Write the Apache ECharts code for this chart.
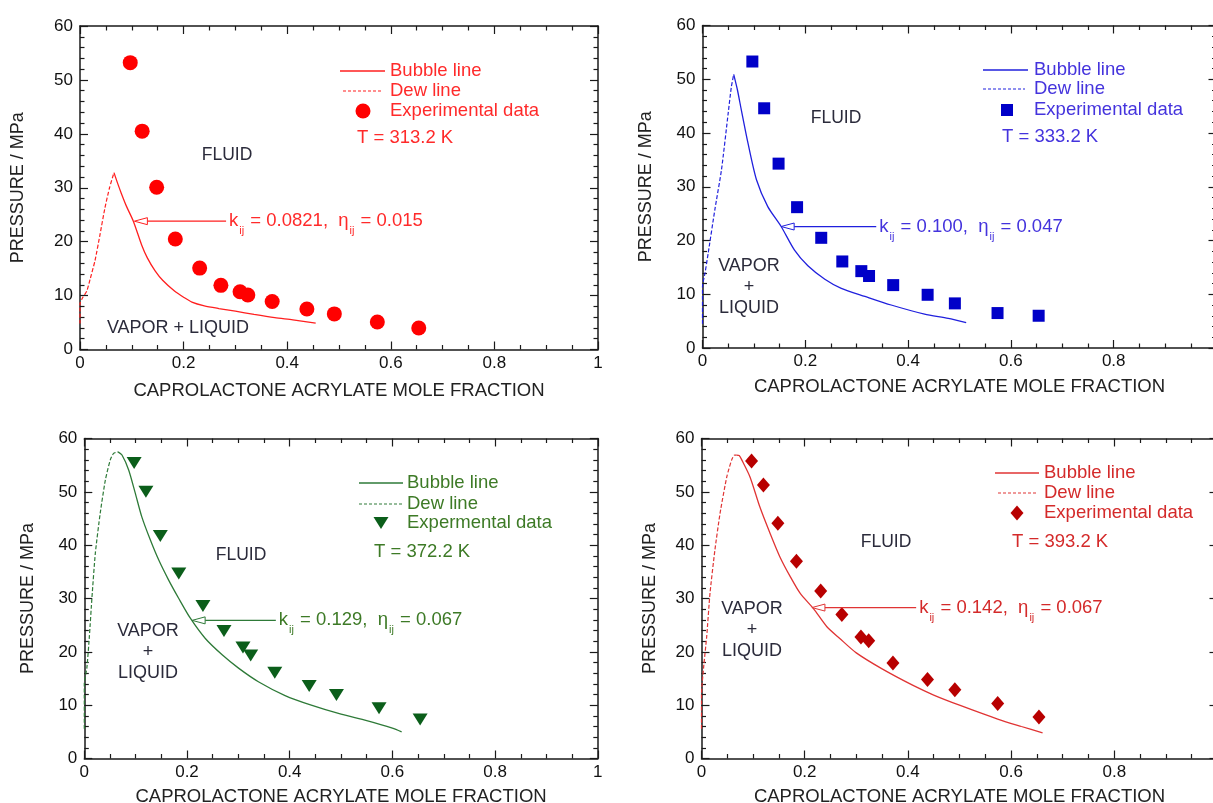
<!DOCTYPE html>
<html><head><meta charset="utf-8">
<script src="https://cdn.jsdelivr.net/npm/echarts@6/dist/echarts.min.js"></script>
<style>html,body{margin:0;padding:0;background:#fff}#c{width:1213px;height:803px}</style>
</head><body><div id="c"></div>
<script>
// ---------- data ----------
const xTickLabels = [0, 0.2, 0.4, 0.6, 0.8, 1];
const yTickLabels = [0, 10, 20, 30, 40, 50, 60];
const xTitle = 'CAPROLACTONE ACRYLATE MOLE FRACTION';
const yTitle = 'PRESSURE / MPa';

const xExp = [0.097, 0.12, 0.148, 0.184, 0.231, 0.272, 0.309, 0.324, 0.371, 0.438, 0.491, 0.574, 0.654];
const exp313 = [53.2, 40.5, 30.1, 20.5, 15.1, 11.9, 10.7, 10.1, 8.9, 7.5, 6.6, 5.1, 4.0];
const exp333 = [53.3, 44.6, 34.3, 26.2, 20.5, 16.1, 14.3, 13.4, 11.7, 9.9, 8.3, 6.5, 6.0];
const exp372 = [55.4, 50.0, 41.7, 34.7, 28.6, 23.9, 20.8, 19.3, 16.1, 13.6, 11.9, 9.4, 7.3];
const exp393 = [55.8, 51.3, 44.1, 37.0, 31.4, 27.0, 22.8, 22.1, 17.9, 14.8, 12.9, 10.3, 7.8];

const dew313 = [[0,4.8],[0,8.5],[0.005,9.6],[0.013,10.8],[0.02,13.2],[0.029,16.5],[0.038,21],[0.048,26.2],[0.057,30],[0.0656,32.8]];
const bubble313 = [[0.0656,32.8],[0.072,31],[0.08,28.9],[0.09,26.5],[0.103,23.8],[0.119,19.4],[0.13,17],[0.145,14.6],[0.16,12.8],[0.183,10.8],[0.2,9.7],[0.216,8.8],[0.24,8.1],[0.268,7.6],[0.3,7.1],[0.336,6.5],[0.376,5.9],[0.411,5.5],[0.455,4.9]];

const dew333 = [[0,4.5],[0,11.4],[0.005,14],[0.011,17.6],[0.024,25.7],[0.037,33.2],[0.05,43.7],[0.056,48.5],[0.0607,50.9]];
const bubble333 = [[0.0607,50.9],[0.068,48],[0.0755,44.3],[0.0885,38.1],[0.105,31.3],[0.127,26.3],[0.153,22.6],[0.179,18.2],[0.205,15.3],[0.238,12.8],[0.27,11.1],[0.316,9.6],[0.367,8.0],[0.432,6.3],[0.478,5.5],[0.513,4.7]];

const dew372 = [[0,5.6],[0,14],[0.005,17],[0.0098,22.8],[0.015,30.3],[0.0215,38.5],[0.031,46.0],[0.041,52.2],[0.0506,56.0],[0.057,57.2],[0.0656,57.5]];
const bubble372 = [[0.0656,57.5],[0.0734,56.9],[0.0864,54.1],[0.0994,49.7],[0.112,45.3],[0.1285,41.0],[0.145,37.2],[0.164,33.5],[0.184,30.0],[0.2065,26.3],[0.2357,22.5],[0.269,19.4],[0.301,16.9],[0.339,14.4],[0.391,11.8],[0.442,10.0],[0.5,8.3],[0.55,7.1],[0.6,5.7],[0.618,5.0]];

const dew393 = [[0,5.6],[0,12],[0.004,17],[0.01,22.8],[0.0165,31.0],[0.026,39.1],[0.036,46.0],[0.049,52.8],[0.0585,56.0],[0.064,56.9],[0.068,56.9]];
const bubble393 = [[0.068,56.9],[0.073,56.8],[0.078,56.0],[0.094,52.8],[0.113,47.2],[0.133,42.2],[0.152,37.8],[0.172,34.1],[0.191,31.0],[0.217,28.1],[0.243,24.7],[0.268,22.5],[0.3,19.8],[0.35,16.8],[0.41,13.7],[0.45,11.9],[0.5,10.0],[0.574,7.4],[0.62,6.0],[0.661,4.8]];

const tempLabels = ['T = 313.2 K', 'T = 333.2 K', 'T = 372.2 K', 'T = 393.2 K'];
const expLabels = ['Experimental data', 'Experimental data', 'Expermental data', 'Experimental data'];
const kValues = ['0.0821', '0.100', '0.129', '0.142'];
const etaValues = ['0.015', '0.047', '0.067', '0.067'];
// arrow tip [x, P] on the bubble line and x of the arrow tail (data units)
const arrowTips = [[0.105, 23.8], [0.153, 22.6], [0.21, 25.9], [0.214, 28.3]];
const arrowTailX = [0.282, 0.338, 0.373, 0.416];

// ---------- styles / layout ----------
const FONT = '"Liberation Sans", Arial, Helvetica, sans-serif';
const AX = '#1a1a1a';
const panels = [
  { grid:[80,26,518,323.5], gapX:32, gapY:53, line:'#ff1f1f', mark:'#ff0000', text:'#ff2a2a',
    dew:dew313, bubble:bubble313, exp:exp313, symbol:'circle', size:15, rotate:0,
    L:{ solid:[340,385], dash:[343,382], rows:[71,91,111], mx:363, tx:390, T:[357,138],
        fluid:[227,155], vl:[[178,328,'VAPOR + LIQUID']] } },
  { grid:[702.5,25.5,514,322.5], gapX:29, gapY:47, line:'#2020dd', mark:'#0000c8', text:'#4433dd',
    dew:dew333, bubble:bubble333, exp:exp333, symbol:'rect', size:12, rotate:0,
    L:{ solid:[983,1028], dash:[983,1025], rows:[70,89,110], mx:1007, tx:1034, T:[1002,137],
        fluid:[836,118], vl:[[749,266,'VAPOR'],[749,287,'+'],[749,308,'LIQUID']] } },
  { grid:[84.3,438.5,513.5,320], gapX:29, gapY:47, line:'#2e7a38', mark:'#0b5e1a', text:'#3d7a26',
    dew:dew372, bubble:bubble372, exp:exp372, symbol:'triangle', size:[15,12], rotate:180,
    L:{ solid:[359,403], dash:[359,403], rows:[483,504,523], mx:381, tx:407, T:[374,552],
        fluid:[241,555], vl:[[148,631,'VAPOR'],[148,652,'+'],[148,673,'LIQUID']] } },
  { grid:[701.5,438.5,516,320], gapX:29, gapY:42, line:'#e03434', mark:'#b80000', text:'#d42a2a',
    dew:dew393, bubble:bubble393, exp:exp393, symbol:'diamond', size:[13,15], rotate:0,
    L:{ solid:[995,1039], dash:[998,1036], rows:[473,493,513], mx:1017, tx:1044, T:[1012,542],
        fluid:[886,542], vl:[[752,609,'VAPOR'],[752,630,'+'],[752,651,'LIQUID']] } }
];

function labelOf(list, v) {
  const t = list.find(t => Math.abs(t - v) < 1e-6);
  return t === undefined ? '' : String(t);
}

const chart = echarts.init(document.getElementById('c'), null, { renderer: 'canvas', width: 1213, height: 803 });
const grids = [], xAxes = [], yAxes = [], series = [];

panels.forEach((p, i) => {
  grids.push({ left: p.grid[0], top: p.grid[1], width: p.grid[2], height: p.grid[3],
    containLabel: false, outerBoundsMode: 'none' });
  const base = {
    type: 'value', gridIndex: i,
    axisLine: { show: true, onZero: false, lineStyle: { color: AX, width: 1.5 } },
    axisTick: { show: true, inside: true, length: 8, lineStyle: { color: AX, width: 1.2 } },
    splitLine: { show: false }, minorSplitLine: { show: false }
  };
  const xb = { ...base, min: 0, max: 1, interval: 0.2,
    minorTick: { show: true, splitNumber: 4, length: 4.5, lineStyle: { color: AX, width: 1.2 } } };
  const yb = { ...base, min: 0, max: 60, interval: 10,
    minorTick: { show: true, splitNumber: 5, length: 4.5, lineStyle: { color: AX, width: 1.2 } } };
  xAxes.push({ ...xb, position: 'bottom',
    axisLabel: { margin: 5, fontSize: 17, color: '#111', fontFamily: FONT, hideOverlap: false,
      formatter: v => labelOf(xTickLabels, v) },
    name: xTitle, nameLocation: 'middle', nameGap: p.gapX,
    nameTextStyle: { fontSize: 18.5, color: '#222', fontFamily: FONT } });
  xAxes.push({ ...xb, position: 'top', axisLabel: { show: false } });
  yAxes.push({ ...yb, position: 'left',
    axisLabel: { margin: 7, fontSize: 17, color: '#111', fontFamily: FONT, formatter: v => labelOf(yTickLabels, v) },
    name: yTitle, nameLocation: 'middle', nameGap: p.gapY,
    nameTextStyle: { fontSize: 18, color: '#222', fontFamily: FONT } });
  yAxes.push({ ...yb, position: 'right', axisLabel: { show: false } });

  series.push({ type: 'line', name: 'Dew line', xAxisIndex: 2*i, yAxisIndex: 2*i, data: p.dew,
    symbol: 'none', showSymbol: false, silent: true, z: 2, smooth: 0.2,
    lineStyle: { color: p.line, width: 1.2, type: [4, 2] } });
  series.push({ type: 'line', name: 'Bubble line', xAxisIndex: 2*i, yAxisIndex: 2*i, data: p.bubble,
    symbol: 'none', showSymbol: false, silent: true, z: 2, smooth: 0.25,
    lineStyle: { color: p.line, width: 1.3 } });
  series.push({ type: 'scatter', name: expLabels[i], xAxisIndex: 2*i, yAxisIndex: 2*i,
    data: xExp.map((x, k) => [x, p.exp[k]]), symbol: p.symbol, symbolSize: p.size, symbolRotate: p.rotate,
    itemStyle: { color: p.mark, opacity: 1 }, z: 3, silent: true });
});

chart.setOption({
  animation: false,
  backgroundColor: '#fff',
  grid: grids, xAxis: xAxes, yAxis: yAxes, series: series
});

// ---------- annotations ----------
const g = [];
const txt = (x, y, s, color, align, size) => ({ type: 'text', x, y, z: 10, silent: true,
  style: { text: s, fill: color, fontSize: size || 18.5, fontFamily: FONT, align: align || 'left', verticalAlign: 'middle' } });

panels.forEach((p, i) => {
  const L = p.L;
  g.push({ type: 'line', z: 10, silent: true, shape: { x1: L.solid[0], y1: L.rows[0], x2: L.solid[1], y2: L.rows[0] },
    style: { stroke: p.line, lineWidth: 1.3 } });
  g.push({ type: 'line', z: 10, silent: true, shape: { x1: L.dash[0], y1: L.rows[1], x2: L.dash[1], y2: L.rows[1] },
    style: { stroke: p.line, lineWidth: 1.2, lineDash: [3, 2] } });
  const cx = L.mx, cy = L.rows[2];
  let m;
  if (p.symbol === 'circle') m = { type: 'circle', shape: { cx, cy, r: 7.5 } };
  else if (p.symbol === 'rect') m = { type: 'rect', shape: { x: cx - 6, y: cy - 6, width: 12, height: 12 } };
  else if (p.symbol === 'triangle') m = { type: 'polygon', shape: { points: [[cx - 7.5, cy - 6], [cx + 7.5, cy - 6], [cx, cy + 6]] } };
  else m = { type: 'polygon', shape: { points: [[cx, cy - 7.5], [cx + 6.5, cy], [cx, cy + 7.5], [cx - 6.5, cy]] } };
  m.z = 10; m.silent = true; m.style = { fill: p.mark };
  g.push(m);
  g.push(txt(L.tx, L.rows[0], 'Bubble line', p.text));
  g.push(txt(L.tx, L.rows[1], 'Dew line', p.text));
  g.push(txt(L.tx, L.rows[2], expLabels[i], p.text));
  g.push(txt(L.T[0], L.T[1], tempLabels[i], p.text));
  g.push(txt(L.fluid[0], L.fluid[1], 'FLUID', '#2b2b3b', 'center', 17.5));
  L.vl.forEach(v => g.push(txt(v[0], v[1], v[2], '#2b2b3b', 'center', 18)));

  // arrow through the library's scales
  const tip = chart.convertToPixel({ seriesIndex: 3*i + 1 }, arrowTips[i]);
  const tail = chart.convertToPixel({ seriesIndex: 3*i + 1 }, [arrowTailX[i], arrowTips[i][1]]);
  const hx = tip[0] + 13;
  g.push({ type: 'line', z: 10, silent: true, shape: { x1: hx, y1: tip[1], x2: tail[0], y2: tip[1] },
    style: { stroke: p.line, lineWidth: 1.3 } });
  g.push({ type: 'polygon', z: 11, silent: true,
    shape: { points: [[tip[0], tip[1]], [hx, tip[1] - 3.5], [hx, tip[1] + 3.5]] },
    style: { fill: '#fff', stroke: p.line, lineWidth: 1 } });
  g.push({ type: 'text', x: tail[0] + 3, y: tip[1], z: 10, silent: true,
    style: {
      text: '{a|k}{s|ij}{a| = ' + kValues[i] + ',  η}{s|ij}{a| = ' + etaValues[i] + '}',
      align: 'left', verticalAlign: 'middle',
      rich: {
        a: { fontSize: 18.5, fontFamily: FONT, fill: p.text, color: p.text },
        s: { fontSize: 11, fontFamily: FONT, fill: p.text, color: p.text, padding: [20, 1, 0, 1] }
      }
    } });
});

chart.setOption({ graphic: g });
</script>
</body></html>
